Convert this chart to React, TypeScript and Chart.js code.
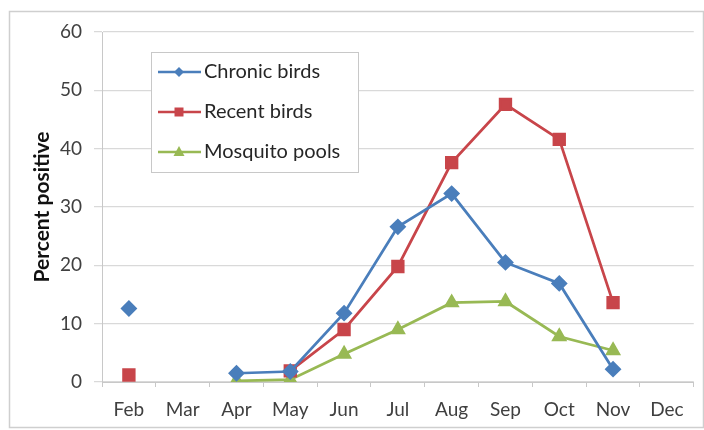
import React, { useEffect, useRef } from "react";
import { Chart, registerables } from "chart.js";

Chart.register(...registerables);

const months = ["Feb", "Mar", "Apr", "May", "Jun", "Jul", "Aug", "Sep", "Oct", "Nov", "Dec"];
const chronicBirds = [12.6, null, 1.5, 1.8, 11.8, 26.6, 32.3, 20.5, 16.9, 2.2, null];
const recentBirds = [1.2, null, null, 1.9, 9.0, 19.8, 37.6, 47.6, 41.6, 13.6, null];
const mosquitoPools = [null, null, 0.2, 0.4, 4.8, 9.0, 13.6, 13.8, 7.8, 5.4, null];
const yTicks = [0, 10, 20, 30, 40, 50, 60];

const FONT = "Lato, 'Open Sans', sans-serif";

const frameAndLegend = {
  id: "frameAndLegend",
  beforeDraw(chart: any) {
    const ctx = chart.ctx;
    ctx.save();
    ctx.fillStyle = "#ffffff";
    ctx.fillRect(0, 0, chart.width, chart.height);
    ctx.strokeStyle = "#cfcfcf";
    ctx.lineWidth = 1.5;
    ctx.strokeRect(9.5, 11.5, 694, 416);
    ctx.restore();
  },
  afterDraw(chart: any) {
    const ctx = chart.ctx;
    ctx.save();
    const bx = 151, by = 52, bw = 207, bh = 120;
    ctx.fillStyle = "#ffffff";
    ctx.fillRect(bx, by, bw, bh);
    ctx.strokeStyle = "#c8c8c8";
    ctx.lineWidth = 1;
    ctx.strokeRect(bx + 0.5, by + 0.5, bw, bh);
    const rows = [72, 112, 152];
    chart.data.datasets.forEach((ds: any, i: number) => {
      const y = rows[i];
      ctx.strokeStyle = ds.borderColor;
      ctx.lineWidth = 2.5;
      ctx.beginPath();
      ctx.moveTo(158, y);
      ctx.lineTo(201, y);
      ctx.stroke();
      ctx.fillStyle = ds.backgroundColor;
      ctx.beginPath();
      const cx = 179;
      if (ds.pointStyle === "rectRot") {
        ctx.moveTo(cx, y - 5);
        ctx.lineTo(cx + 5, y);
        ctx.lineTo(cx, y + 5);
        ctx.lineTo(cx - 5, y);
      } else if (ds.pointStyle === "rect") {
        ctx.rect(cx - 4.5, y - 4.5, 9, 9);
      } else {
        ctx.moveTo(cx, y - 6);
        ctx.lineTo(cx + 5.5, y + 4);
        ctx.lineTo(cx - 5.5, y + 4);
      }
      ctx.closePath();
      ctx.fill();
      ctx.fillStyle = "#262626";
      ctx.font = `20px ${FONT}`;
      ctx.textBaseline = "middle";
      ctx.textAlign = "left";
      ctx.fillText(ds.label, 204, y);
    });
    ctx.restore();
  },
};

export default function App() {
  const ref = useRef<HTMLCanvasElement | null>(null);
  useEffect(() => {
    if (!ref.current) return;
    const chart = new Chart(ref.current, {
      type: "line",
      data: {
        labels: months,
        datasets: [
          {
            label: "Chronic birds",
            data: chronicBirds,
            borderColor: "#4a7ebb",
            backgroundColor: "#4a7ebb",
            pointStyle: "rectRot",
            pointRadius: 6.5,
            borderWidth: 2.75,
          },
          {
            label: "Recent birds",
            data: recentBirds,
            borderColor: "#c8454a",
            backgroundColor: "#c8454a",
            pointStyle: "rect",
            pointRadius: 7.5,
            borderWidth: 2.75,
          },
          {
            label: "Mosquito pools",
            data: mosquitoPools,
            borderColor: "#98b954",
            backgroundColor: "#98b954",
            pointStyle: "triangle",
            pointRadius: 6.5,
            borderWidth: 2.75,
          },
        ] as any,
      },
      options: {
        animation: false,
        responsive: false,
        spanGaps: false,
        layout: { padding: { top: 32, right: 9, left: 0, bottom: 0 } },
        plugins: { legend: { display: false }, tooltip: { enabled: false } },
        elements: { line: { tension: 0 }, point: { borderWidth: 0 } },
        scales: {
          x: {
            type: "category",
            offset: true,
            grid: {
              offset: true,
              drawOnChartArea: false,
              drawTicks: true,
              tickLength: 5,
              color: "#c8c8c8",
            },
            border: { display: true, color: "#c8c8c8" },
            ticks: {
              color: "#404040",
              font: { family: FONT, size: 19 },
              padding: 11,
              maxRotation: 0,
              autoSkip: false,
            },
            afterFit(scale: any) {
              scale.height = 48;
            },
          },
          y: {
            min: 0,
            max: 60,
            afterBuildTicks(scale: any) {
              scale.ticks = yTicks.map((v) => ({ value: v }));
            },
            grid: { color: "#d9d9d9", tickLength: 8, lineWidth: 1.25 },
            border: { display: true, color: "#c8c8c8" },
            ticks: {
              color: "#404040",
              font: { family: FONT, size: 19 },
              padding: 12,
            },
            title: {
              display: true,
              text: "Percent positive",
              color: "#111111",
              font: { family: FONT, size: 21, weight: "bold" },
              padding: { top: 30, bottom: 0 },
            },
            afterFit(scale: any) {
              scale.width = 102;
            },
          },
        },
      } as any,
      plugins: [frameAndLegend],
    });
    return () => chart.destroy();
  }, []);
  return (
    <div style={{ position: "absolute", left: 0, top: 0, width: 704, height: 430 }}>
      <canvas ref={ref} width={704} height={430} style={{ display: "block" }} />
    </div>
  );
}
